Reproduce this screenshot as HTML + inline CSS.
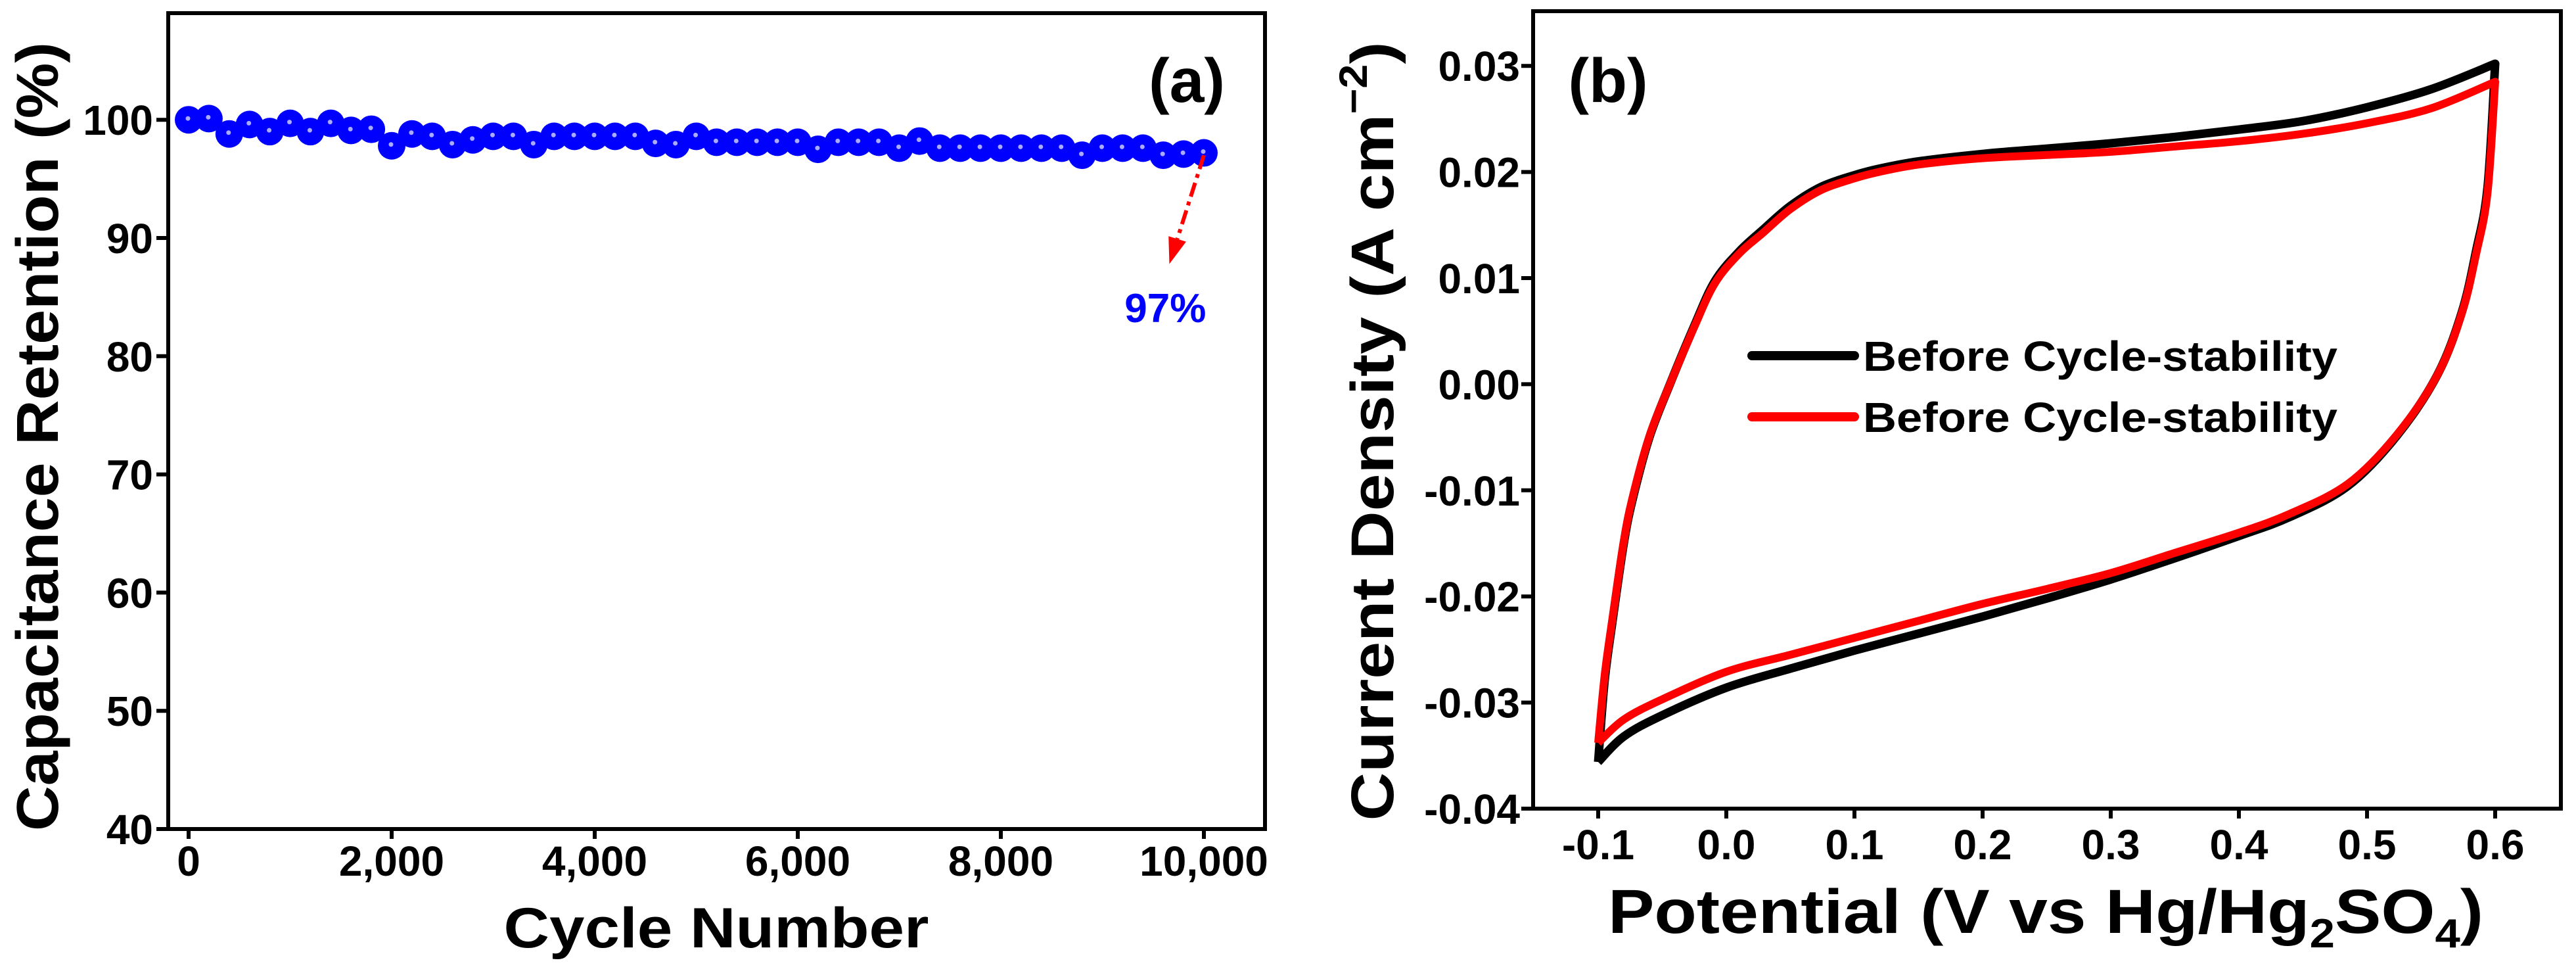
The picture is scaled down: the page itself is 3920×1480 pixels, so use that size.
<!DOCTYPE html>
<html><head><meta charset="utf-8"><style>
html,body{margin:0;padding:0;background:#fff;}
svg{display:block;font-family:"Liberation Sans",Arial,sans-serif;font-weight:bold;}
</style></head><body>
<svg id="fig" width="3920" height="1480" viewBox="0 0 3920 1480" xmlns="http://www.w3.org/2000/svg">
<rect x="0" y="0" width="3920" height="1480" fill="#fff"/>
<g id="pa"></g>
<g id="pb"></g>
</svg>
<script>
// ---------- Panel (a) data ----------
const cycles = [0,200,400,600,800,1000,1200,1400,1600,1800,2000,2200,2400,2600,2800,3000,3200,3400,3600,3800,4000,4200,4400,4600,4800,5000,5200,5400,5600,5800,6000,6200,6400,6600,6800,7000,7200,7400,7600,7800,8000,8200,8400,8600,8800,9000,9200,9400,9600,9800,10000];
const retention = [100,100.1,98.8,99.6,99,99.7,99,99.7,99.1,99.2,97.8,98.8,98.6,97.9,98.3,98.6,98.6,97.9,98.6,98.6,98.6,98.6,98.6,98,97.9,98.6,98.1,98.1,98.1,98.1,98.1,97.5,98.1,98.1,98.1,97.6,98.2,97.6,97.6,97.6,97.6,97.6,97.6,97.6,97,97.6,97.6,97.6,97,97.1,97.2];
const xTicksA = [0,2000,4000,6000,8000,10000];
const xTickLabelsA = ["0","2,000","4,000","6,000","8,000","10,000"];
const yTicksA = [40,50,60,70,80,90,100];
const yTickLabelsA = ["40","50","60","70","80","90","100"];
const arrowFrom = [10000,97];
const arrowTo = [9660,87.8];
const annotPos = [9620,84.1];
const annotText = "97%";

// ---------- Panel (b) data ----------
const blackV = [-0.1,-0.095,-0.089,-0.08,-0.073,-0.06,-0.044,-0.025,-0.009,0.01,0.029,0.05,0.074,0.1,0.119,0.15,0.2,0.25,0.3,0.35,0.4,0.45,0.5,0.55,0.6,0.594,0.585,0.574,0.555,0.523,0.485,0.44,0.4,0.35,0.3,0.25,0.2,0.15,0.1,0.05,0.0,-0.05,-0.08,-0.1];
const blackI = [-0.0356,-0.028,-0.0225,-0.015,-0.0108,-0.005,0.0,0.0055,0.0097,0.0125,0.0146,0.0168,0.0186,0.0197,0.0203,0.021,0.0217,0.0222,0.0227,0.0233,0.024,0.0248,0.0261,0.0278,0.0302,0.0185,0.0125,0.0068,0.0009,-0.0049,-0.0096,-0.0125,-0.0143,-0.0164,-0.0184,-0.0202,-0.0219,-0.0235,-0.0251,-0.0268,-0.0286,-0.0312,-0.0332,-0.0356];
const redV = [-0.1,-0.095,-0.089,-0.08,-0.073,-0.06,-0.044,-0.025,-0.009,0.01,0.029,0.05,0.074,0.1,0.119,0.15,0.2,0.25,0.3,0.35,0.4,0.45,0.5,0.55,0.6,0.594,0.585,0.574,0.555,0.523,0.485,0.44,0.4,0.35,0.3,0.25,0.2,0.15,0.1,0.05,0.0,-0.05,-0.08,-0.1];
const redI = [-0.0338,-0.0275,-0.0222,-0.0148,-0.0106,-0.0049,0.0,0.0054,0.0095,0.0123,0.0143,0.0165,0.0183,0.0194,0.02,0.0207,0.0213,0.0216,0.0219,0.0224,0.0229,0.0236,0.0246,0.026,0.0285,0.018,0.0122,0.0067,0.0009,-0.0048,-0.0094,-0.0122,-0.014,-0.0159,-0.0178,-0.0193,-0.0207,-0.0223,-0.0239,-0.0255,-0.0271,-0.0297,-0.0316,-0.0338];
const xTicksB = [-0.1,0.0,0.1,0.2,0.3,0.4,0.5,0.6];
const xTickLabelsB = ["-0.1","0.0","0.1","0.2","0.3","0.4","0.5","0.6"];
const yTicksB = [-0.04,-0.03,-0.02,-0.01,0.0,0.01,0.02,0.03];
const yTickLabelsB = ["-0.04","-0.03","-0.02","-0.01","0.00","0.01","0.02","0.03"];
const legendLabels = ["Before Cycle-stability","Before Cycle-stability"];
const legendColors = ["#000000","#ff0000"];

const NS = "http://www.w3.org/2000/svg";
function mk(parent, tag, attrs, text){
  const e = document.createElementNS(NS, tag);
  for (const k in attrs) e.setAttribute(k, attrs[k]);
  if (text !== undefined) e.textContent = text;
  parent.appendChild(e);
  return e;
}

// ---------- Panel (a) ----------
const pa = document.getElementById('pa');
const A = {l:256, r:1925, t:20, b:1261};
const xA = v => 287 + (v/10000)*1545;
const yA = v => 1261 - (v-40)*17.98;

let frameA = mk(pa,'rect',{x:A.l,y:A.t,width:A.r-A.l,height:A.b-A.t,fill:'none',stroke:'#000','stroke-width':6});



yTicksA.forEach((v,i)=>{
  let t = mk(pa,'line',{x1:238,x2:A.l,y1:yA(v),y2:yA(v),stroke:'#000','stroke-width':6});
  
  
  let lb = mk(pa,'text',{x:233,y:yA(v)+23,'text-anchor':'end','font-size':64},yTickLabelsA[i]);
  
  
});
xTicksA.forEach((v,i)=>{
  let t = mk(pa,'line',{x1:xA(v),x2:xA(v),y1:A.b,y2:A.b+15,stroke:'#000','stroke-width':6});
  
  
  let lb = mk(pa,'text',{x:xA(v),y:1332,'text-anchor':'middle','font-size':64},xTickLabelsA[i]);
  
  
});

cycles.forEach((c,i)=>{
  let g = mk(pa,'g',{});
  
  
  mk(g,'circle',{cx:xA(c),cy:yA(retention[i]),r:21,fill:'#0000ff'});
  mk(g,'circle',{cx:xA(c)-1,cy:yA(retention[i])-2,r:3.5,fill:'#aaaaff'});
});

// arrow
const ax1=xA(arrowFrom[0]), ay1=yA(arrowFrom[1]), ax2=xA(arrowTo[0]), ay2=yA(arrowTo[1]);
const ang = Math.atan2(ay2-ay1, ax2-ax1);
const hl = 40, hw = 14;
const bx = ax2 - hl*Math.cos(ang), by = ay2 - hl*Math.sin(ang);
let arr = mk(pa,'g',{});


mk(arr,'line',{x1:ax1,y1:ay1,x2:bx,y2:by,stroke:'#ff0000','stroke-width':6,'stroke-dasharray':'22 8 6 8'});
mk(arr,'polygon',{points:`${ax2},${ay2} ${bx+hw*Math.sin(ang)},${by-hw*Math.cos(ang)} ${bx-hw*Math.sin(ang)},${by+hw*Math.cos(ang)}`,fill:'#ff0000'});
let an = mk(pa,'text',{x:xA(annotPos[0]),y:yA(annotPos[1])+22,'text-anchor':'middle','font-size':62,fill:'#0000ff'},annotText);



let la = mk(pa,'text',{x:1806,y:155,'text-anchor':'middle','font-size':95},'(a)');


let xta = mk(pa,'text',{x:1090,y:1441,'text-anchor':'middle','font-size':86,textLength:647,lengthAdjust:'spacingAndGlyphs'},'Cycle Number');


let yta = mk(pa,'text',{x:0,y:0,'text-anchor':'middle','font-size':90,textLength:1200,lengthAdjust:'spacingAndGlyphs',transform:'translate(88,664) rotate(-90)'},'Capacitance Retention (%)');



// ---------- Panel (b) ----------
const pb = document.getElementById('pb');
const B = {l:2333, r:3897, t:17, b:1230};
const xB = v => 2432 + (v+0.1)*1950;
const yB = v => 1230 - (v+0.04)*16140;

let frameB = mk(pb,'rect',{x:B.l,y:B.t,width:B.r-B.l,height:B.b-B.t,fill:'none',stroke:'#000','stroke-width':6});


yTicksB.forEach((v,i)=>{
  let t = mk(pb,'line',{x1:B.l-18,x2:B.l,y1:yB(v),y2:yB(v),stroke:'#000','stroke-width':6});
  
  
  let lb = mk(pb,'text',{x:B.l-20,y:yB(v)+23,'text-anchor':'end','font-size':64},yTickLabelsB[i]);
  
  
});
xTicksB.forEach((v,i)=>{
  let t = mk(pb,'line',{x1:xB(v),x2:xB(v),y1:B.b,y2:B.b+15,stroke:'#000','stroke-width':6});
  
  
  let lb = mk(pb,'text',{x:xB(v),y:1307,'text-anchor':'middle','font-size':64},xTickLabelsB[i]);
  
  
});

// smooth path, with a sharp corner at the vertex-potential turning point
function smoothSeg(p, start){
  let d = start ? `M${p[0][0]},${p[0][1]}` : '';
  for(let i=0;i<p.length-1;i++){
    const p0=p[Math.max(i-1,0)], p1=p[i], p2=p[i+1], p3=p[Math.min(i+2,p.length-1)];
    const c1=[p1[0]+(p2[0]-p0[0])/6, p1[1]+(p2[1]-p0[1])/6];
    const c2=[p2[0]-(p3[0]-p1[0])/6, p2[1]-(p3[1]-p1[1])/6];
    d += ` C${c1[0]},${c1[1]} ${c2[0]},${c2[1]} ${p2[0]},${p2[1]}`;
  }
  return d;
}
function smoothPath(V,I){
  const p = V.map((v,i)=>[xB(v),yB(I[i])]);
  let k = 0;
  V.forEach((v,i)=>{ if(v>V[k]) k=i; });
  return smoothSeg(p.slice(0,k+1),true) + smoothSeg(p.slice(k),false);
}
let cb = mk(pb,'path',{d:smoothPath(blackV,blackI),fill:'none',stroke:'#000','stroke-width':13,'stroke-linejoin':'round'});


let cr = mk(pb,'path',{d:smoothPath(redV,redI),fill:'none',stroke:'#ff0000','stroke-width':12,'stroke-linejoin':'round'});



legendLabels.forEach((s,i)=>{
  const y = 541 + i*93;
  let g = mk(pb,'g',{});
  
  
  mk(g,'line',{x1:2666,x2:2822,y1:y,y2:y,stroke:legendColors[i],'stroke-width':14,'stroke-linecap':'round'});
  mk(g,'text',{x:2835,y:y+23,'font-size':64,textLength:722,lengthAdjust:'spacingAndGlyphs'},s);
});

let lb2 = mk(pb,'text',{x:2447,y:155,'text-anchor':'middle','font-size':95},'(b)');



let xtb = mk(pb,'text',{x:2447,y:1419,'font-size':95,textLength:1332,lengthAdjust:'spacingAndGlyphs'});


xtb.innerHTML = 'Potential (V vs Hg/Hg<tspan font-size="62" dy="22">2</tspan><tspan dy="-22">SO</tspan><tspan font-size="62" dy="22">4</tspan><tspan dy="-22">)</tspan>';

let ytb = mk(pb,'text',{x:0,y:0,'text-anchor':'middle','font-size':92,textLength:1185,lengthAdjust:'spacingAndGlyphs',transform:'translate(2120,656) rotate(-90)'});


ytb.innerHTML = 'Current Density (A cm<tspan font-size="60" dy="-40">−2</tspan><tspan dy="40">)</tspan>';
</script>
</body></html>
